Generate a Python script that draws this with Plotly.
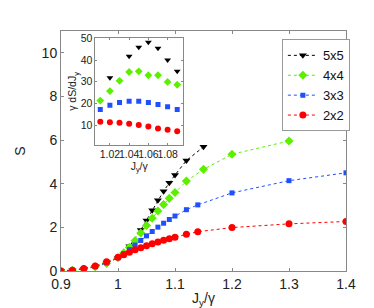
import plotly.graph_objects as go

# ---------------- main panel data ----------------
x_red = [0.9, 0.92, 0.94, 0.96, 0.98, 1.0, 1.01, 1.02, 1.03, 1.04, 1.05, 1.06, 1.07, 1.08, 1.09, 1.1, 1.12, 1.14, 1.2, 1.3, 1.4]
s_red = [0.0, 0.04, 0.12, 0.23, 0.42, 0.63, 0.75, 0.86, 0.97, 1.07, 1.16, 1.25, 1.33, 1.41, 1.48, 1.55, 1.68, 1.80, 1.99, 2.16, 2.27]

x_blue = [0.9, 0.92, 0.94, 0.96, 0.98, 1.0, 1.01, 1.02, 1.03, 1.04, 1.05, 1.06, 1.07, 1.08, 1.09, 1.1, 1.12, 1.14, 1.2, 1.3, 1.4]
s_blue = [0.0, 0.03, 0.10, 0.20, 0.37, 0.61, 0.79, 0.98, 1.19, 1.40, 1.61, 1.81, 2.01, 2.19, 2.36, 2.52, 2.81, 3.03, 3.58, 4.14, 4.50]

x_green = [0.9, 0.92, 0.94, 0.96, 0.98, 1.0, 1.01, 1.02, 1.03, 1.04, 1.05, 1.06, 1.07, 1.08, 1.09, 1.1, 1.12, 1.15, 1.2, 1.3]
s_green = [0.0, 0.03, 0.09, 0.19, 0.35, 0.61, 0.83, 1.09, 1.39, 1.74, 2.09, 2.42, 2.75, 3.05, 3.33, 3.60, 4.12, 4.66, 5.35, 5.96]

x_black = [0.9, 0.92, 0.94, 0.96, 0.98, 1.0, 1.02, 1.04, 1.05, 1.06, 1.07, 1.08, 1.09, 1.1, 1.12, 1.15]
s_black = [0.0, 0.03, 0.09, 0.19, 0.35, 0.61, 1.13, 1.88, 2.32, 2.79, 3.24, 3.66, 4.04, 4.40, 5.06, 5.69]

# ---------------- inset data (gamma dS/dJy) ----------------
xi = [1.01, 1.02, 1.03, 1.04, 1.05, 1.06, 1.07, 1.08, 1.09]
d_red = [11.5, 11.3, 11.0, 10.6, 10.0, 9.3, 8.4, 7.8, 7.1]
d_blue = [17.2, 19.1, 20.4, 21.0, 21.0, 20.4, 19.5, 18.5, 17.2]
d_green = [21.3, 25.7, 30.4, 34.5, 34.8, 33.0, 33.0, 29.9, 28.6]
xi_black = [1.02, 1.04, 1.05, 1.06, 1.07, 1.08, 1.09]
d_black = [31.8, 41.8, 45.9, 48.2, 45.5, 40.0, 34.8]

labels = ["5x5", "4x4", "3x3", "2x2"]
x_ticks = [0.9, 1.0, 1.1, 1.2, 1.3, 1.4]
x_ticktext = ["0.9", "1", "1.1", "1.2", "1.3", "1.4"]
y_ticks = [0, 2, 4, 6, 8, 10]
xi_ticks = [1.02, 1.04, 1.06, 1.08]
xi_ticktext = ["1.02", "1.04", "1.06", "1.08"]
yi_ticks = [10, 20, 30, 40, 50]

BLACK = "#000000"
GREEN = "#5cf000"
BLUE = "#1f4fff"
RED = "#ff0000"
FONT = "Liberation Sans, Arial, sans-serif"

fig = go.Figure()

series = [
    (x_black, s_black, BLACK, "triangle-down", 7, labels[0]),
    (x_green, s_green, GREEN, "diamond", 7, labels[1]),
    (x_blue, s_blue, BLUE, "square", 5, labels[2]),
    (x_red, s_red, RED, "circle", 7, labels[3]),
]
for xs, ys, col, sym, sz, name in series:
    fig.add_trace(go.Scatter(
        x=xs, y=ys, mode="lines+markers", name=name,
        line=dict(color=col, width=1, dash="dot"),
        marker=dict(color=col, symbol=sym, size=sz, line=dict(width=0)),
        xaxis="x", yaxis="y",
    ))

inset = [
    (xi_black, d_black, BLACK, "triangle-down", 6),
    (xi, d_green, GREEN, "diamond", 6),
    (xi, d_blue, BLUE, "square", 5),
    (xi, d_red, RED, "circle", 6),
]
for xs, ys, col, sym, sz in inset:
    fig.add_trace(go.Scatter(
        x=xs, y=ys, mode="markers", showlegend=False,
        marker=dict(color=col, symbol=sym, size=sz, line=dict(width=0)),
        xaxis="x2", yaxis="y2",
    ))

axcol = "#888888"
fig.update_layout(
    width=374, height=308,
    margin=dict(l=48, r=36, t=23, b=34),
    paper_bgcolor="white", plot_bgcolor="white",
    font=dict(family=FONT, size=14, color="#222222"),
    xaxis=dict(
        domain=[0, 1], range=[0.9, 1.4], tickvals=x_ticks, ticktext=x_ticktext,
        ticks="inside", ticklen=3, tickcolor=axcol, showline=True, linecolor=axcol,
        linewidth=1, mirror="ticks", showgrid=False, zeroline=False, tickangle=0,
        title=dict(text="J<sub>y</sub>/γ", standoff=2, font=dict(size=14)),
        tickfont=dict(size=14),
    ),
    yaxis=dict(
        domain=[0, 1], range=[0, 11], tickvals=y_ticks,
        ticks="inside", ticklen=3, tickcolor=axcol, showline=True, linecolor=axcol,
        linewidth=1, mirror="ticks", showgrid=False, zeroline=False,
        title=dict(text="S", standoff=12, font=dict(size=14)),
        tickfont=dict(size=14),
    ),
    xaxis2=dict(
        domain=[0.121, 0.428], anchor="y2", range=[1.005, 1.096], tickvals=xi_ticks,
        ticktext=xi_ticktext, tickangle=0,
        ticks="inside", ticklen=2, tickcolor=axcol, showline=True, linecolor=axcol,
        linewidth=1, mirror="ticks", showgrid=False, zeroline=False,
        tickfont=dict(size=10.5), ticklabelstandoff=0,
        title=dict(text="J<sub>y</sub>/γ", standoff=0, font=dict(size=10.5)),
    ),
    yaxis2=dict(
        domain=[0.527, 0.969], anchor="x2", range=[1, 50], tickvals=yi_ticks,
        ticks="inside", ticklen=2, tickcolor=axcol, showline=True, linecolor=axcol,
        linewidth=1, mirror="ticks", showgrid=False, zeroline=False,
        tickfont=dict(size=10.5),
        title=dict(text="γ dS/dJ<sub>y</sub>", standoff=0, font=dict(size=10.5)),
    ),
    legend=dict(
        x=0.775, y=0.965, xanchor="left", yanchor="top",
        bgcolor="white", bordercolor="#999999", borderwidth=1,
        font=dict(size=13, family=FONT, color="#111111"),
        itemwidth=30, tracegroupgap=0,
    ),
    showlegend=True,
)

fig.write_html("out.html")
